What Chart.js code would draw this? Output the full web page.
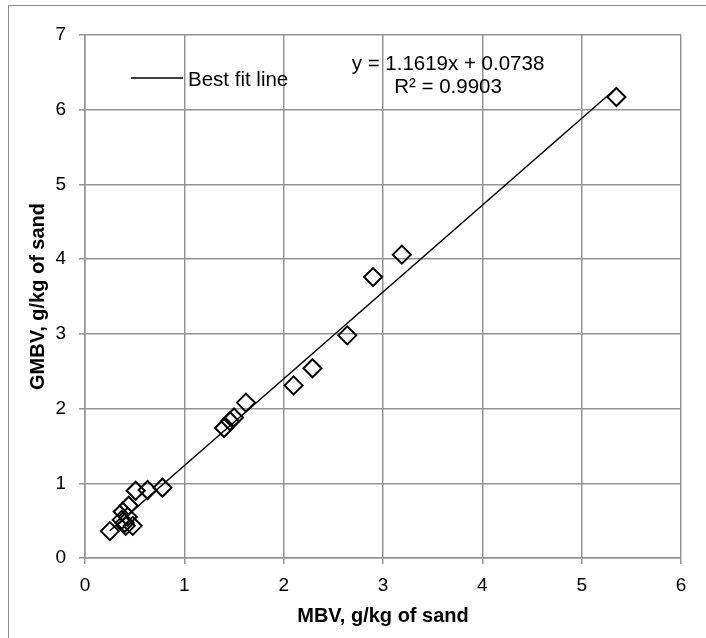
<!DOCTYPE html>
<html>
<head>
<meta charset="utf-8">
<title>GMBV vs MBV</title>
<script src="https://cdn.jsdelivr.net/npm/chart.js@4.4.0/dist/chart.umd.min.js"></script>
<style>
  html, body { margin: 0; padding: 0; background: #fff; }
  .wrap { position: relative; width: 706px; height: 638px; overflow: hidden; }
  .frame { position: absolute; left: 8px; top: 5px; width: 740px; height: 680px; border: 1px solid #8c8c8c; }
  canvas { position: absolute; left: 0; top: 0; }
</style>
</head>
<body>
<div class="wrap">
  <div class="frame"></div>
  <canvas id="chart" width="706" height="638"></canvas>
</div>
<script>
// measured values, g/kg of sand
const mbv  = [0.25, 0.37, 0.38, 0.40, 0.41, 0.43, 0.44, 0.48, 0.51, 0.63, 0.78,
              1.40, 1.46, 1.50, 1.62, 2.10, 2.29, 2.64, 2.90, 3.19, 5.35];
const gmbv = [0.36, 0.51, 0.62, 0.47, 0.43, 0.55, 0.70, 0.43, 0.90, 0.91, 0.94,
              1.74, 1.83, 1.88, 2.08, 2.31, 2.54, 2.98, 3.76, 4.06, 6.17];

// linear trendline
const slope = 1.1619;
const intercept = 0.0738;
const rSquared = 0.9903;

const xTicks = [0, 1, 2, 3, 4, 5, 6];
const yTicks = [0, 1, 2, 3, 4, 5, 6, 7];

const FONT = '"Liberation Sans", Arial, sans-serif';
const GRID = '#939393';

const points = mbv.map((x, i) => ({ x, y: gmbv[i] }));
const xLo = Math.min(...mbv), xHi = Math.max(...mbv);
const fitLine = [xLo, xHi].map(x => ({ x, y: slope * x + intercept }));

// legend entry and trendline equation sit inside the plot area
const insideLabels = {
    id: 'insideLabels',
    afterDatasetsDraw(chart) {
        const { ctx, chartArea } = chart;
        const fit = chart.data.datasets[0];
        const top = chartArea.top;
        ctx.save();
        ctx.strokeStyle = fit.borderColor;
        ctx.lineWidth = fit.borderWidth;
        ctx.beginPath();
        ctx.moveTo(131, top + 43);
        ctx.lineTo(183, top + 43);
        ctx.stroke();

        ctx.fillStyle = '#000';
        ctx.font = '20.5px ' + FONT;
        ctx.textBaseline = 'middle';
        ctx.textAlign = 'left';
        ctx.fillText(fit.label, 188, top + 45);

        ctx.textAlign = 'center';
        ctx.fillText(`y = ${slope.toFixed(4)}x + ${intercept.toFixed(4)}`, 448, top + 29);
        ctx.fillText(`R² = ${rSquared.toFixed(4)}`, 448, top + 52);
        ctx.restore();
    }
};

const tickFont = { family: FONT, size: 19 };
const titleFont = { family: FONT, size: 20, weight: 'bold' };

new Chart(document.getElementById('chart').getContext('2d'), {
    type: 'scatter',
    data: {
        datasets: [{
            label: 'Best fit line',
            type: 'line',
            data: fitLine,
            borderColor: '#000',
            borderWidth: 1.5,
            pointRadius: 0,
            fill: false
        }, {
            label: 'GMBV',
            data: points,
            pointStyle: 'rectRot',
            pointRadius: 9,
            borderWidth: 2,
            borderColor: '#000',
            backgroundColor: 'rgba(0,0,0,0)'
        }]
    },
    options: {
        responsive: false,
        animation: false,
        layout: { padding: { top: 35, right: 25, left: 0, bottom: 0 } },
        plugins: {
            legend: { display: false },
            tooltip: { enabled: false }
        },
        scales: {
            x: {
                type: 'linear',
                min: xTicks[0],
                max: xTicks[xTicks.length - 1],
                afterBuildTicks: s => { s.ticks = xTicks.map(v => ({ value: v })); },
                afterFit: s => { s.height = 80; },
                grid: { color: GRID, lineWidth: 1.5, tickLength: 6 },
                border: { color: GRID, width: 1.5 },
                ticks: { color: '#000', font: tickFont, padding: 10 },
                title: {
                    display: true,
                    text: 'MBV, g/kg of sand',
                    color: '#000',
                    font: titleFont,
                    padding: { bottom: 10 }
                }
            },
            y: {
                min: yTicks[0],
                max: yTicks[yTicks.length - 1],
                afterBuildTicks: s => { s.ticks = yTicks.map(v => ({ value: v })); },
                afterFit: s => { s.width = 85; },
                grid: { color: GRID, lineWidth: 1.5, tickLength: 6 },
                border: { color: GRID, width: 1.5 },
                ticks: { color: '#000', font: tickFont, padding: 13 },
                title: {
                    display: true,
                    text: 'GMBV, g/kg of sand',
                    color: '#000',
                    font: titleFont,
                    padding: { top: 26 }
                }
            }
        }
    },
    plugins: [insideLabels]
});
</script>
</body>
</html>
